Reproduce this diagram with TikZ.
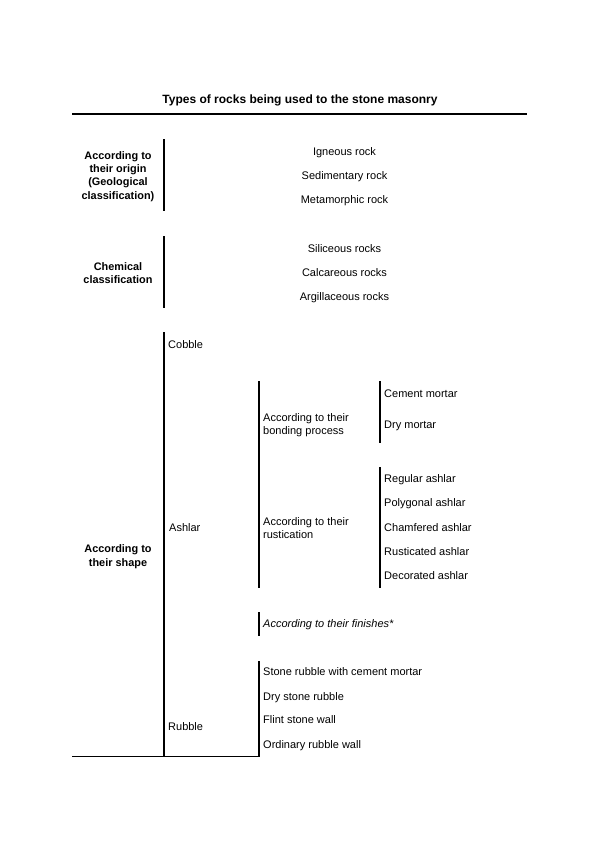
\documentclass[tikz,border=0pt]{standalone}
\usepackage{fontspec}
\setmainfont{Liberation Sans}
\begin{document}
\begin{tikzpicture}[x=1pt,y=-1pt,
  txt/.style={inner sep=0pt,anchor=base west,font=\fontsize{11}{13.3}\selectfont},
  ctxt/.style={inner sep=0pt,anchor=base,font=\fontsize{11}{13.3}\selectfont},
  hdr/.style={inner sep=0pt,anchor=center,align=center,font=\fontsize{10.9}{13.4}\selectfont\bfseries},
  sub/.style={inner sep=0pt,anchor=west,align=left,font=\fontsize{11}{13.1}\selectfont},
  bar/.style={line width=2pt},
  rule/.style={line width=1.3pt}]
\useasboundingbox (0,0) rectangle (600,848);
% title and rules
\node[ctxt,font=\fontsize{12}{14}\selectfont\bfseries] (title) at (300,104) {Types of rocks being used to the stone masonry};
\draw[line width=2pt] (72,114) -- (527,114);
\draw[rule] (72,756.5) -- (260,756.5);
% group 1
\node[hdr] (g1) at (118,176.3) {According to\\their origin\\(Geological\\classification)};
\draw[bar] (164,139) -- (164,211);
\node[ctxt] (ig) at (344.5,155) {Igneous rock};
\node[ctxt] (sed) at (344.5,179) {Sedimentary rock};
\node[ctxt] (met) at (344.5,203) {Metamorphic rock};
% group 2
\node[hdr] (g2) at (118,273) {Chemical\\classification};
\draw[bar] (164,236) -- (164,308);
\node[ctxt] (sil) at (344.5,252) {Siliceous rocks};
\node[ctxt] (cal) at (344.5,276.5) {Calcareous rocks};
\node[ctxt] (arg) at (344.5,300.5) {Argillaceous rocks};
% group 3
\node[hdr] (g3) at (118,556.6) {According to\\their shape};
\draw[bar] (164,332) -- (164,757);
\node[txt] (cob) at (168,348) {Cobble};
\node[txt] (ash) at (169,531) {Ashlar};
\node[txt] (rub) at (168,730) {Rubble};
% ashlar subdivisions
\draw[bar] (259,381) -- (259,588);
\node[sub] (bond) at (263,425.4) {According to their\\bonding process};
\node[sub] (rust) at (263,527.7) {According to their\\rustication};
\draw[bar] (380,381) -- (380,443);
\node[txt] (cem) at (384,397) {Cement mortar};
\node[txt] (dry) at (384,428) {Dry mortar};
\draw[bar] (380,467) -- (380,588);
\node[txt] (reg) at (384,482) {Regular ashlar};
\node[txt] (pol) at (384,506) {Polygonal ashlar};
\node[txt] (cha) at (384,531) {Chamfered ashlar};
\node[txt] (rus) at (384,555) {Rusticated ashlar};
\node[txt] (dec) at (384,579) {Decorated ashlar};
\draw[bar] (259,612) -- (259,636);
\node[txt,font=\fontsize{11}{13.3}\selectfont\itshape] (fin) at (263,627) {According to their finishes*};
% rubble
\draw[bar] (259,661) -- (259,757);
\node[txt] (r1) at (263,675.7) {Stone rubble with cement mortar};
\node[txt] (r2) at (263,700) {Dry stone rubble};
\node[txt] (r3) at (263,723.5) {Flint stone wall};
\node[txt] (r4) at (263,748) {Ordinary rubble wall};
\end{tikzpicture}
\end{document}
